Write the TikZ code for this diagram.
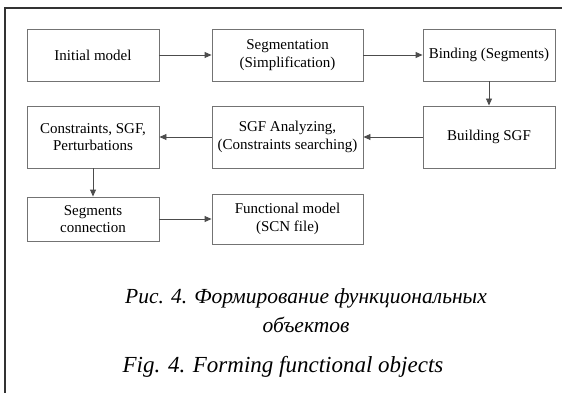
\documentclass[tikz,border=0pt]{standalone}
\usepackage{fontspec}
\setmainfont{Liberation Serif}
\usetikzlibrary{arrows.meta}
\begin{document}
\begin{tikzpicture}[x=1pt,y=-1pt,
    box/.style={draw=black!55,line width=0.9pt,align=center,inner sep=0pt,
        font=\fontsize{15}{17.5}\selectfont},
    flow/.style={draw=black!70,line width=0.9pt,-{Triangle[length=7pt,width=6pt]}},
    caption/.style={align=center,font=\itshape}]
    \useasboundingbox (0,0) rectangle (562,393);

    % Frame
    \draw[black!80,line width=1.3pt] (562,8) -- (5,8) -- (5,393);

    % First row
    \node[box,minimum width=132pt,minimum height=52pt] (init) at (93,55) {Initial model};
    \node[box,minimum width=151pt,minimum height=52pt] (segm) at (287.5,55) {Segmentation\\(Simplification)};
    \node[box,minimum width=132pt,minimum height=52pt] (bind) at (489,55) {Binding (Segments)};

    % Second row
    \node[box,minimum width=132pt,minimum height=62pt] (build) at (489,137) {Building SGF};
    \node[box,minimum width=151pt,minimum height=62pt] (analyz) at (287.5,137) {SGF Analyzing,\\(Constraints searching)};
    \node[box,minimum width=132pt,minimum height=62pt] (constr) at (93,137) {Constraints, SGF,\\Perturbations};

    % Third row
    \node[box,minimum width=132pt,minimum height=44pt] (conn) at (93,219) {Segments\\connection};
    \node[box,minimum width=151pt,minimum height=50pt] (func) at (287.5,219) {Functional model\\(SCN file)};

    % Arrows
    \draw[flow] (init) -- (segm);
    \draw[flow] (segm) -- (bind);
    \draw[flow] (bind) -- (build);
    \draw[flow] (build) -- (analyz);
    \draw[flow] (analyz) -- (constr);
    \draw[flow] (constr) -- (conn);
    \draw[flow] (conn) -- (func);

    % Captions
    \node[caption,font=\fontsize{21.5}{29}\selectfont\itshape] (rucap) at (306,311) {Рис. 4. Формирование функциональных\\объектов};
    \node[caption,font=\fontsize{23}{29}\selectfont\itshape] (encap) at (283,367) {Fig. 4. Forming functional objects};
\end{tikzpicture}
\end{document}
